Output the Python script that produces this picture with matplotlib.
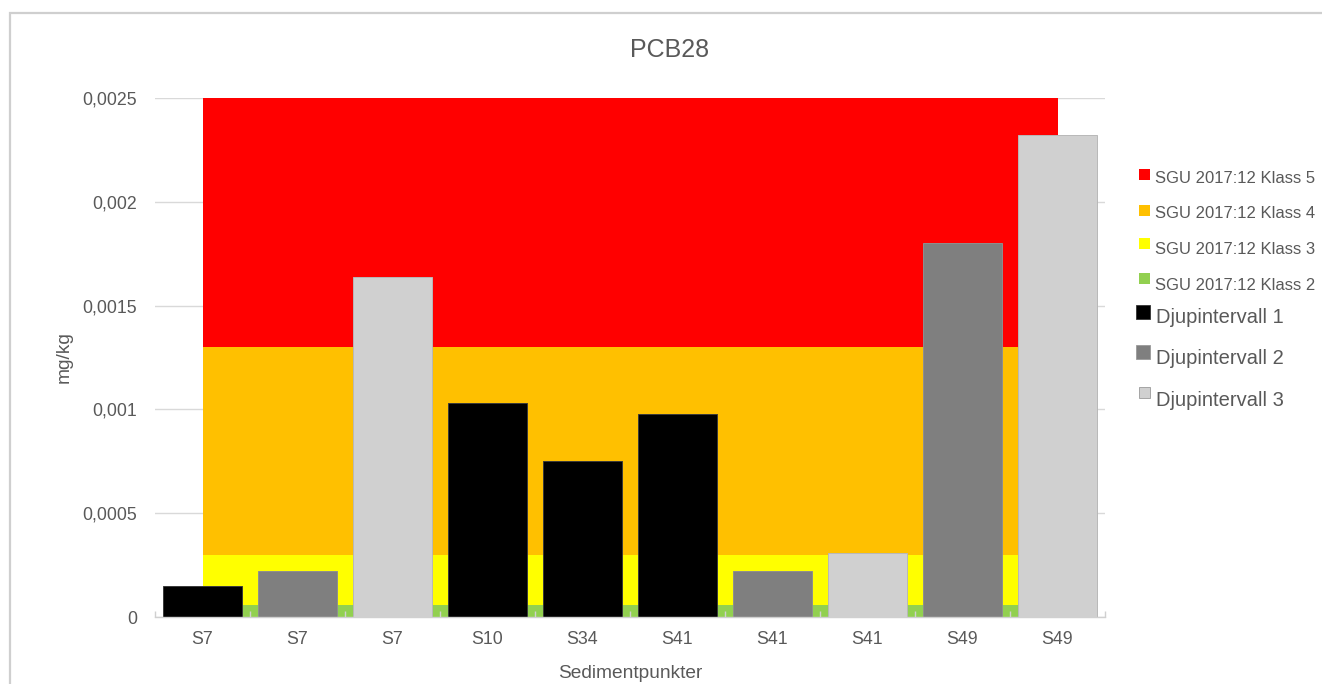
import matplotlib
matplotlib.use("Agg")
import matplotlib.pyplot as plt
from matplotlib.patches import Rectangle
from matplotlib.ticker import FuncFormatter, FixedLocator

plt.rcParams['font.family'] = ['Liberation Sans', 'DejaVu Sans']

# Sample points and measured PCB28 concentrations (mg/kg)
categories = ["S7", "S7", "S7", "S10", "S34", "S41", "S41", "S41", "S49", "S49"]
values = [0.00015, 0.00022, 0.00164, 0.00103, 0.00075, 0.00098,
          0.00022, 0.00031, 0.00180, 0.00232]
depth_interval = [1, 2, 3, 1, 1, 1, 2, 3, 2, 3]

# SGU 2017:12 class limits (mg/kg)
class_names = ["SGU 2017:12 Klass 2", "SGU 2017:12 Klass 3",
               "SGU 2017:12 Klass 4", "SGU 2017:12 Klass 5"]
class_lower = [0.0, 0.00006, 0.0003, 0.0013]
class_upper = [0.00006, 0.0003, 0.0013, 0.0025]
class_colors = ["#92d050", "#ffff00", "#ffc000", "#ff0000"]

interval_names = ["Djupintervall 1", "Djupintervall 2", "Djupintervall 3"]
interval_colors = ["#000000", "#7f7f7f", "#d0d0d0"]
interval_edges = ["#3a3a3a", "#8f8f8f", "#b8b8b8"]

y_ticks = [0, 0.0005, 0.001, 0.0015, 0.002, 0.0025]

W, H = 1322, 684
fig = plt.figure(figsize=(W / 100, H / 100), dpi=100)
text_col = "#595959"

def fx(px):
    return px / W

def fy(py):
    return 1 - py / H

# Chart frame
fig.patches.append(Rectangle((fx(10), -0.1), 1.2, fy(13) + 0.1,
                             transform=fig.transFigure, fill=False,
                             edgecolor="#cfcfcf", linewidth=1.6))

ax = fig.add_axes([fx(155), fy(617), fx(1105) - fx(155), fy(98) - fy(617)])
x = list(range(len(categories)))

# Classification bands spanning first to last sample
for lo, hi, col in zip(class_lower, class_upper, class_colors):
    ax.fill_between([x[0], x[-1]], [lo, lo], [hi, hi], color=col,
                    linewidth=0, zorder=1)

# Measured values
for xi, v, d in zip(x, values, depth_interval):
    ax.bar(xi, v, width=0.84, color=interval_colors[d - 1],
           edgecolor=interval_edges[d - 1], linewidth=0.7, zorder=2)

ax.set_xlim(-0.5, len(categories) - 0.5)
ax.set_ylim(0, 0.0025)

ax.set_yticks(y_ticks)
ax.yaxis.set_major_formatter(FuncFormatter(
    lambda v, p: "0" if v == 0 else f"{v:g}".replace(".", ",")))
ax.yaxis.grid(True, color="#d9d9d9", linewidth=1.0)
ax.yaxis.set_zorder(0.5)
ax.tick_params(axis="y", length=0, pad=13, labelsize=12.8, labelcolor=text_col)

ax.set_xticks(x)
ax.set_xticklabels(categories)
ax.tick_params(axis="x", which="major", length=0, pad=10, labelsize=12.8,
               labelcolor=text_col)
ax.xaxis.set_minor_locator(FixedLocator([i - 0.5 for i in range(len(categories) + 1)]))
ax.tick_params(axis="x", which="minor", direction="in", length=4,
               color="#d0d0d0", width=1.0)
ax.xaxis.set_zorder(3)

for s in ["top", "right", "left"]:
    ax.spines[s].set_visible(False)
ax.spines["bottom"].set_color("#d0d0d0")
ax.spines["bottom"].set_linewidth(1.0)
ax.spines["bottom"].set_zorder(3)

ax.set_xlabel("Sedimentpunkter", fontsize=13.8, color=text_col, labelpad=12)
ax.set_ylabel("mg/kg", fontsize=13.8, color=text_col, labelpad=7)

fig.text(fx(670), fy(50), "PCB28", ha="center", va="center",
         fontsize=18, color=text_col)

# Legend: classification bands (top class first), then depth intervals
leg_class = list(zip(class_names, class_colors))[::-1]
class_rows = [178, 213, 249, 285]
class_sq = [175, 210, 244, 278]
for (name, col), ty, sy in zip(leg_class, class_rows, class_sq):
    fig.patches.append(Rectangle((fx(1139), fy(sy + 5.5)), fx(11), 11 / H,
                                 transform=fig.transFigure, facecolor=col,
                                 edgecolor="none"))
    fig.text(fx(1155), fy(ty), name, ha="left", va="center",
             fontsize=12, color=text_col)

int_rows = [317, 359, 400]
int_sq = [312, 352, 392]
int_sizes = [14, 14, 11]
for name, col, ty, sy, sz in zip(interval_names, interval_colors,
                                 int_rows, int_sq, int_sizes):
    fig.patches.append(Rectangle((fx(1150 - sz), fy(sy + sz / 2)), fx(sz), sz / H,
                                 transform=fig.transFigure, facecolor=col,
                                 edgecolor="#9a9a9a" if col != "#000000" else "#333333",
                                 linewidth=0.6))
    fig.text(fx(1156), fy(ty), name, ha="left", va="center",
             fontsize=14.5, color=text_col)

fig.savefig("out.png", dpi=100)
